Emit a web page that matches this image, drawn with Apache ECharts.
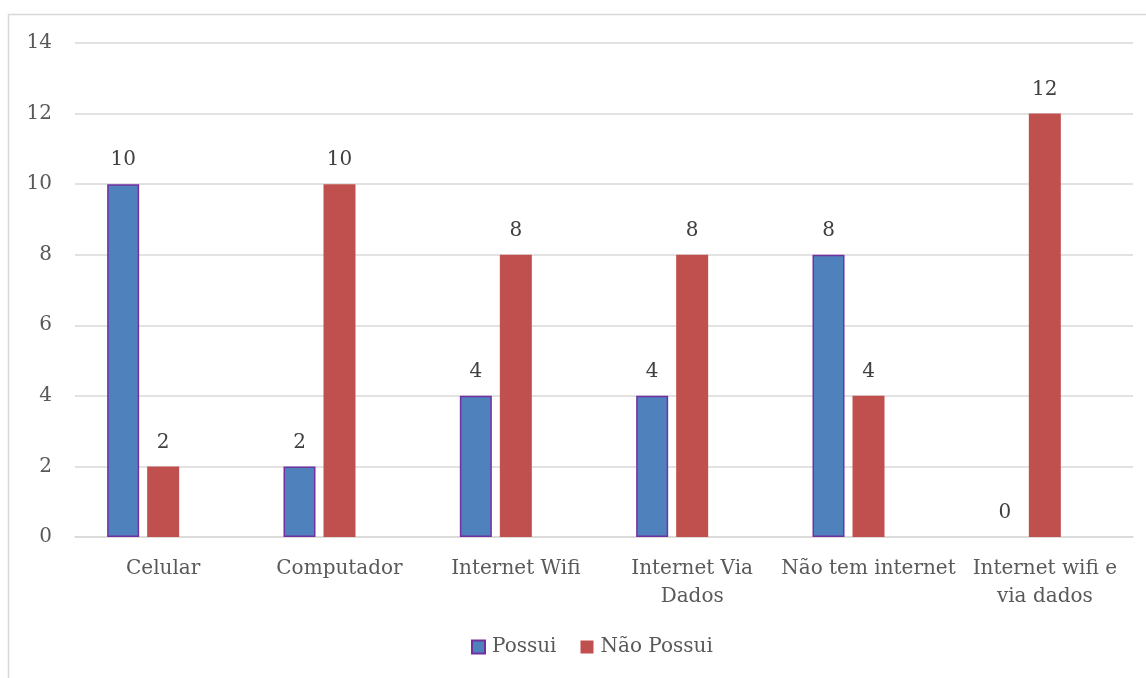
<!DOCTYPE html>
<html>
<head>
<meta charset="utf-8">
<script src="https://cdn.jsdelivr.net/npm/echarts@6/dist/echarts.min.js"></script>
<style>
  html, body { margin: 0; padding: 0; background: #fff; }
  #chart { width: 1146px; height: 678px; }
</style>
</head>
<body>
<div id="chart"></div>
<script>
var categories = ['Celular', 'Computador', 'Internet Wifi', 'Internet Via\nDados', 'Não tem internet', 'Internet wifi e\nvia dados']
var possui = [10, 2, 4, 4, 8, 0]
var naoPossui = [2, 10, 8, 8, 4, 12]
var yTicks = { min: 0, max: 14, interval: 2 }

var font = 'DejaVu Serif'

var chart = echarts.init(document.getElementById('chart'))

var labelStyle = {
    show: true,
    position: 'top',
    distance: 14,
    color: '#404040',
    fontFamily: font,
    fontSize: 20
}

// zero bars get no outline (otherwise a purple line shows on the axis)
var possuiData = possui.map(function (v) {
    return v === 0 ? { value: v, itemStyle: { borderWidth: 0 } } : v
})

chart.setOption({
    animation: false,
    graphic: [
        {
            type: 'rect',
            shape: { x: 8.5, y: 14.5, width: 1200, height: 700 },
            style: { fill: 'none', stroke: '#d9d9d9', lineWidth: 1.5 },
            silent: true
        }
    ],
    grid: { left: 75, right: 13, top: 43, bottom: 141 },
    legend: {
        data: ['Possui', 'Não Possui'],
        bottom: 16,
        left: 466,
        itemWidth: 13,
        itemHeight: 13,
        itemGap: 24,
        icon: 'rect',
        textStyle: { color: '#595959', fontFamily: font, fontSize: 20, padding: [0, 0, 0, 2] }
    },
    xAxis: {
        type: 'category',
        data: categories,
        axisLine: { lineStyle: { color: '#d9d9d9', width: 1.5 } },
        axisTick: { show: false },
        axisLabel: {
            color: '#595959',
            fontFamily: font,
            fontSize: 20,
            margin: 18,
            lineHeight: 28,
            interval: 0
        }
    },
    yAxis: {
        type: 'value',
        min: yTicks.min,
        max: yTicks.max,
        interval: yTicks.interval,
        axisLine: { show: false },
        axisTick: { show: false },
        splitLine: { lineStyle: { color: '#d9d9d9', width: 1.5 } },
        axisLabel: {
            color: '#595959',
            fontFamily: font,
            fontSize: 20,
            margin: 23
        }
    },
    series: [
        {
            name: 'Possui',
            type: 'bar',
            data: possuiData,
            barWidth: 32,
            barGap: '25%',
            itemStyle: { color: '#4f81bd', borderColor: '#7030a0', borderWidth: 1.5 },
            label: labelStyle
        },
        {
            name: 'Não Possui',
            type: 'bar',
            data: naoPossui,
            barWidth: 32,
            barGap: '25%',
            itemStyle: { color: '#c0504d' },
            label: labelStyle
        },
        {
            // empty third series in the source chart, keeps bars left of centre
            name: 'vazio',
            type: 'bar',
            data: [],
            barWidth: 32,
            barGap: '25%'
        }
    ]
})
</script>
</body>
</html>
